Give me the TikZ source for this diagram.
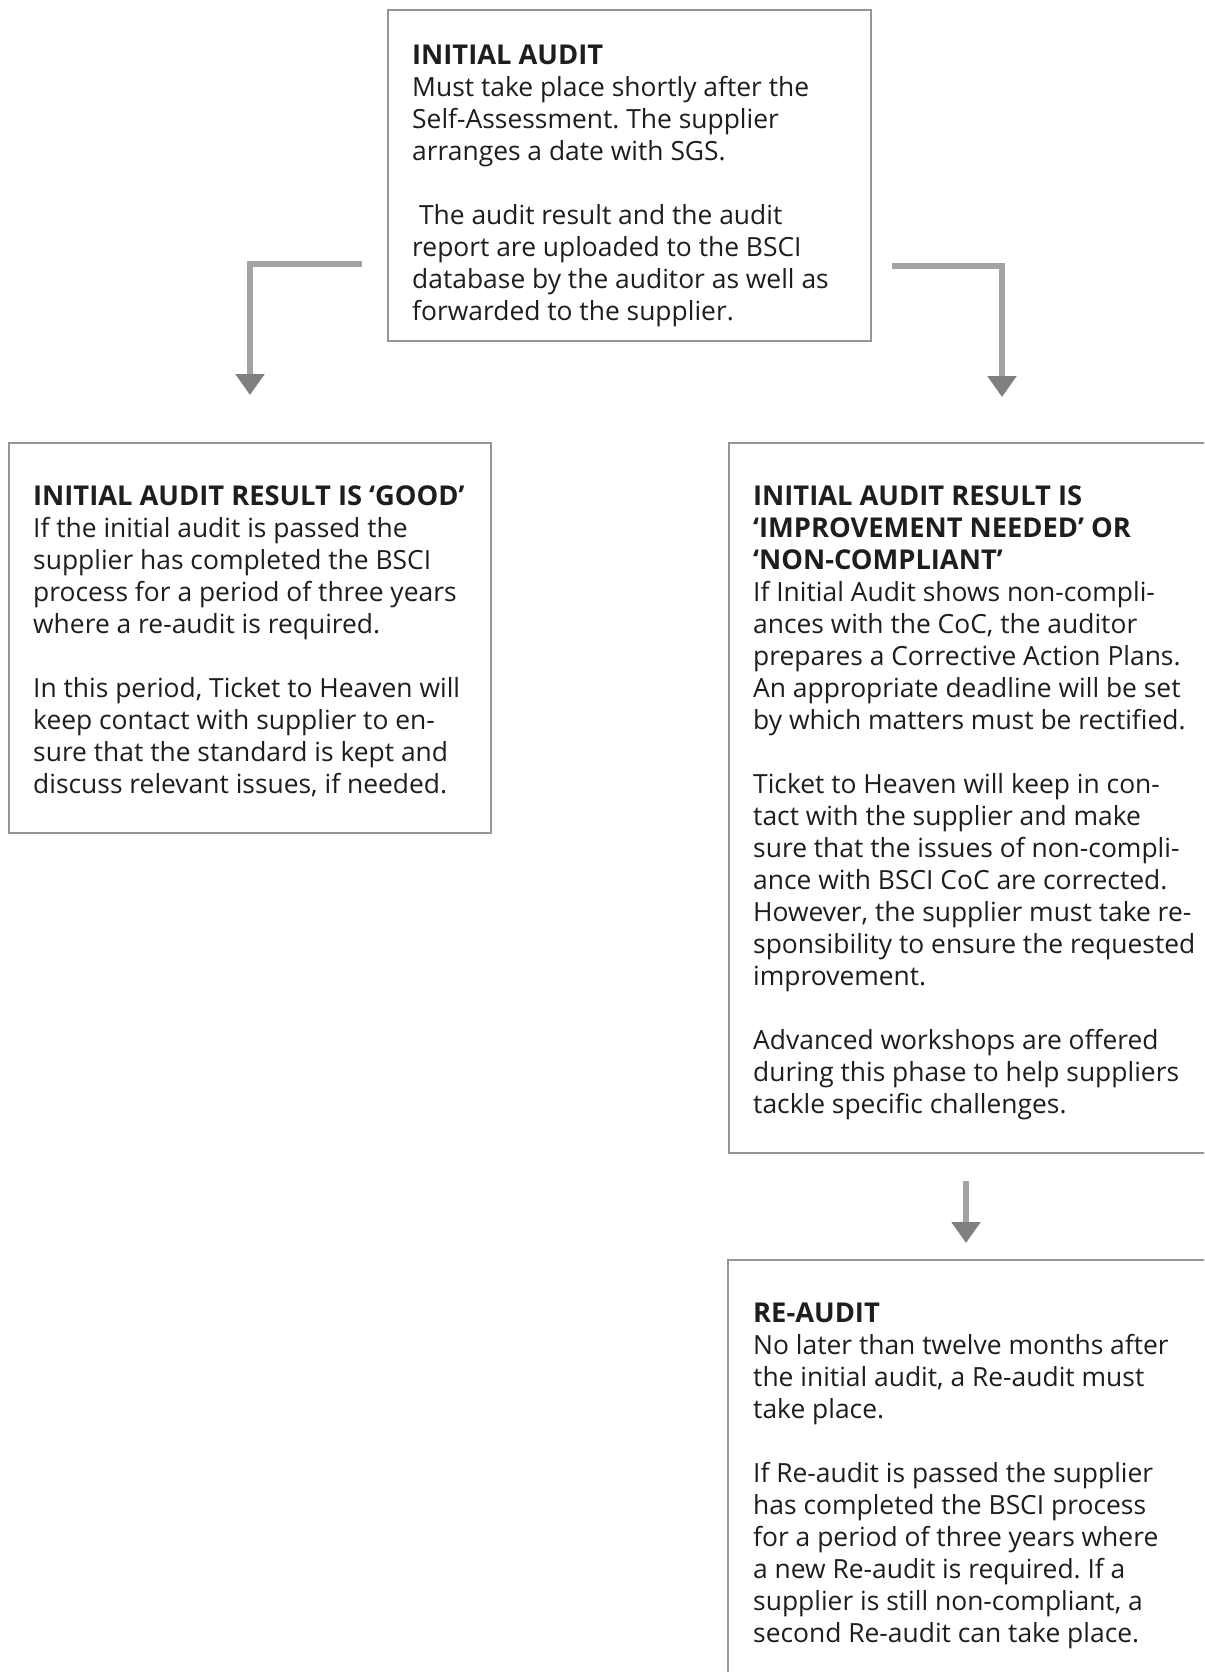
\documentclass[tikz,border=0pt]{standalone}
\usepackage{fontspec}
\setmainfont{Open Sans}
\usetikzlibrary{arrows.meta}
\definecolor{boxgray}{HTML}{969696}
\definecolor{arrline}{HTML}{A3A3A3}
\definecolor{arrhead}{HTML}{7F7F7F}
\definecolor{txt}{HTML}{1E1E1E}
\newcommand\ttl[1]{{\fontsize{27.3}{32}\selectfont\bfseries #1}}
\begin{document}
\frenchspacing
\begin{tikzpicture}[x=1pt,y=-1pt,
  box/.style={draw=boxgray, line width=2pt, inner sep=0pt, outer sep=0pt, anchor=north west},
  txtblock/.style={anchor=base west, inner sep=0pt, text=txt, font=\fontsize{26.4}{32}\selectfont},
  arr/.style={draw=arrline, line width=6pt, -{Triangle[width=28pt,length=21pt,color=arrhead]}}]
\useasboundingbox (0,0) rectangle (1204,1672);
\clip (0,0) rectangle (1204,1672);
\fill[white] (0,0) rectangle (1204,1672);

% boxes
\node[box, minimum width=483pt, minimum height=331pt] (top) at (388,10) {};
\node[box, minimum width=482pt, minimum height=390pt] (good) at (9,443) {};
\node[box, minimum width=520pt, minimum height=710pt] (improve) at (729,443) {};
\node[box, minimum width=520pt, minimum height=460pt] (reaudit) at (728,1260) {};

% texts
\node[txtblock] (toptxt) at (412,65) {\begin{tabular}[t]{@{}l@{}}
\ttl{INITIAL AUDIT}\\
Must take place shortly after the\\
Self-Assessment. The supplier\\
arranges a date with SGS.\\
\\
\ The audit result and the audit\\
report are uploaded to the BSCI\\
database by the auditor as well as\\
forwarded to the supplier.
\end{tabular}};

\node[txtblock] (goodtxt) at (33,505) {\begin{tabular}[t]{@{}l@{}}
\ttl{INITIAL AUDIT RESULT IS ‘GOOD’}\\
If the initial audit is passed the\\
supplier has completed the BSCI\\
process for a period of three years\\
where a re-audit is required.\\
\\
In this period, Ticket to Heaven will\\
keep contact with supplier to en-\\
sure that the standard is kept and\\
discuss relevant issues, if needed.
\end{tabular}};

\node[txtblock] (improvetxt) at (753,505) {\begin{tabular}[t]{@{}l@{}}
\ttl{INITIAL AUDIT RESULT IS}\\
\ttl{‘IMPROVEMENT NEEDED’ OR}\\
\ttl{‘NON-COMPLIANT’}\\
If Initial Audit shows non-compli-\\
ances with the CoC, the auditor\\
prepares a Corrective Action Plans.\\
An appropriate deadline will be set\\
by which matters must be rectified.\\
\\
Ticket to Heaven will keep in con-\\
tact with the supplier and make\\
sure that the issues of non-compli-\\
ance with BSCI CoC are corrected.\\
However, the supplier must take re-\\
sponsibility to ensure the requested\\
improvement.\\
\\
Advanced workshops are offered\\
during this phase to help suppliers\\
tackle specific challenges.
\end{tabular}};

\node[txtblock] (reaudittxt) at (753,1322) {\begin{tabular}[t]{@{}l@{}}
\ttl{RE-AUDIT}\\
No later than twelve months after\\
the initial audit, a Re-audit must\\
take place.\\
\\
If Re-audit is passed the supplier\\
has completed the BSCI process\\
for a period of three years where\\
a new Re-audit is required. If a\\
supplier is still non-compliant, a\\
second Re-audit can take place.
\end{tabular}};

% connectors
\coordinate (l1) at (362,264);
\coordinate (r1) at (892,266);
\coordinate (rx) at (1002,443);
\coordinate (d1) at (966,1181);
\draw[arr, shorten >=48pt] (l1) -| (good.north);
\draw[arr, shorten >=46pt] (r1) -| (rx);
\draw[arr, shorten >=17pt] (d1) -- (d1 |- reaudit.north);
\end{tikzpicture}
\end{document}
